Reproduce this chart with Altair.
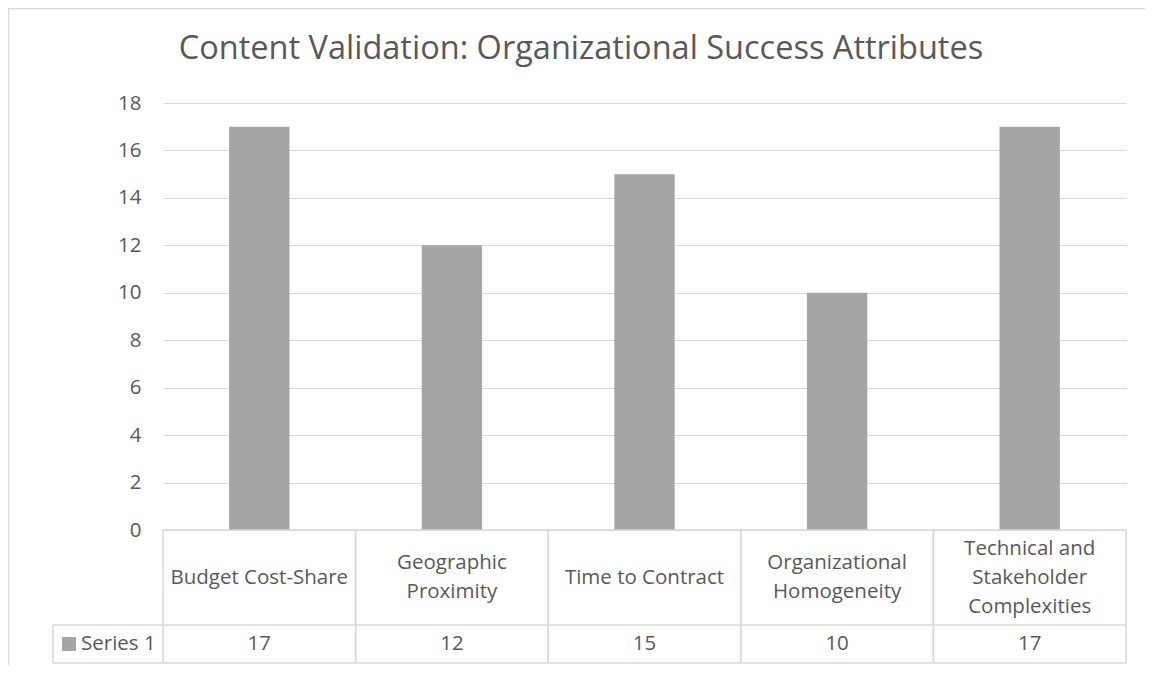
import altair as alt
import pandas as pd

# ---- data ----
categories = [
    "Budget Cost-Share",
    "Geographic Proximity",
    "Time to Contract",
    "Organizational Homogeneity",
    "Technical and Stakeholder Complexities",
]
label_lines = [
    "Budget Cost-Share",
    "Geographic\nProximity",
    "Time to Contract",
    "Organizational\nHomogeneity",
    "Technical and\nStakeholder\nComplexities",
]
values = [17, 12, 15, 10, 17]
series_name = "Series 1"
title_text = "Content Validation: Organizational Success Attributes"
y_ticks = [0, 2, 4, 6, 8, 10, 12, 14, 16, 18]

# ---- layout / style ----
W = 963
H_PLOT = 427
H_CAT = 95
H_SER = 38
H = H_PLOT + H_CAT + H_SER
LEFT_CELL = -110
PAD_L, PAD_T, PAD_R, PAD_B = 155, 95, 19, 2
FONT = "Open Sans"
FS = 20.5
LINE_H = 29
TXT = "#595959"
GRID = "#d9d9d9"
BAR = "#a5a5a5"

df = pd.DataFrame({"cat": categories, "label": label_lines, "value": values})
df["nlines"] = [s.count("\n") + 1 for s in label_lines]
one = pd.DataFrame({"k": [0]})

xenc = alt.X("cat:N", sort=categories,
             scale=alt.Scale(paddingInner=0, paddingOuter=0), axis=None)

bars = alt.Chart(df).mark_bar(color=BAR, width={"band": 0.3135}).encode(
    x=xenc,
    y=alt.Y("value:Q",
            scale=alt.Scale(domain=[0, 18], range=[H_PLOT, 0], nice=False, zero=True),
            axis=alt.Axis(values=y_ticks, grid=True, gridColor=GRID, gridWidth=1,
                          domain=False, ticks=False, labelFont=FONT, labelFontSize=FS,
                          labelColor=TXT, labelPadding=22, title=None)),
)

def cat_text_layer(n):
    return alt.Chart(df).transform_filter(alt.datum.nlines == n).mark_text(
        lineBreak="\n", font=FONT, fontSize=FS, color=TXT,
        baseline="middle", lineHeight=LINE_H).encode(
        x=alt.X("cat:N", sort=categories, axis=None),
        y=alt.value(H_PLOT + H_CAT / 2 - (n - 1) * LINE_H / 2),
        text="label:N",
    )

cat_texts = [cat_text_layer(n) for n in (1, 2, 3)]

val_text = alt.Chart(df).mark_text(font=FONT, fontSize=FS, color=TXT,
                                   baseline="middle").encode(
    x=alt.X("cat:N", sort=categories, axis=None),
    y=alt.value(H_PLOT + H_CAT + H_SER / 2),
    text="value:Q",
)

vlines_l = alt.Chart(df).mark_rule(color=GRID, strokeWidth=1.5).encode(
    x=alt.X("cat:N", sort=categories, bandPosition=0, axis=None),
    y=alt.value(H_PLOT), y2=alt.value(H),
)
vlines_r = alt.Chart(df).mark_rule(color=GRID, strokeWidth=1.5).encode(
    x=alt.X("cat:N", sort=categories, bandPosition=1, axis=None),
    y=alt.value(H_PLOT), y2=alt.value(H),
)

def hrule(x0, x1, y):
    return alt.Chart(one).mark_rule(color=GRID, strokeWidth=1.5).encode(
        x=alt.value(x0), x2=alt.value(x1), y=alt.value(y))

def vrule(x, y0, y1):
    return alt.Chart(one).mark_rule(color=GRID, strokeWidth=1.5).encode(
        x=alt.value(x), y=alt.value(y0), y2=alt.value(y1))

table_top = hrule(0, W, H_PLOT)
row_sep = hrule(LEFT_CELL, W, H_PLOT + H_CAT)
table_bot = hrule(LEFT_CELL, W, H)
cell_left = vrule(LEFT_CELL, H_PLOT + H_CAT, H)

border_left = vrule(-PAD_L + 0.5, -PAD_T, H + PAD_B)
border_top = hrule(-PAD_L, W + PAD_R, -PAD_T + 0.5)

legend_sq = alt.Chart(one).mark_square(size=196, color=BAR, opacity=1).encode(
    x=alt.value(-94), y=alt.value(H_PLOT + H_CAT + H_SER / 2))
legend_txt = alt.Chart(one).mark_text(font=FONT, fontSize=FS, color=TXT, align="left",
                                      baseline="middle").encode(
    x=alt.value(-82), y=alt.value(H_PLOT + H_CAT + H_SER / 2),
    text=alt.value(series_name))

title = alt.Chart(one).mark_text(font=FONT, fontSize=32.5, color=TXT, align="center",
                                 baseline="alphabetic").encode(
    x=alt.value(418), y=alt.value(-44), text=alt.value(title_text))

chart = alt.layer(
    bars, table_top, row_sep, table_bot, cell_left, vlines_l, vlines_r,
    *cat_texts, val_text, legend_sq, legend_txt, title, border_left, border_top,
).properties(
    width=W, height=H,
    autosize=alt.AutoSizeParams(type="none"),
    padding={"left": PAD_L, "top": PAD_T, "right": PAD_R, "bottom": PAD_B},
).configure_view(stroke=None)

chart.save("out.html", embed_options={"renderer": "svg", "actions": False})
